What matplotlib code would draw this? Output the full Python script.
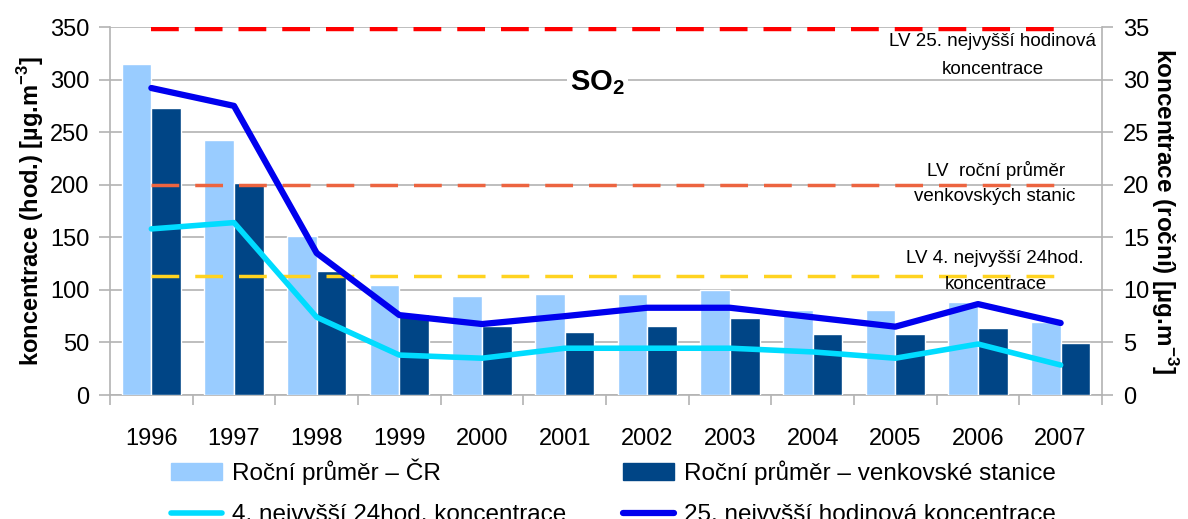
import matplotlib.pyplot as plt
import matplotlib.patches as mpatches
import matplotlib.lines as mlines
import numpy as np

plt.rcParams['font.family'] = ['Liberation Sans', 'DejaVu Sans']
plt.rcParams['mathtext.fontset'] = 'custom'
plt.rcParams['mathtext.rm'] = 'Liberation Sans'
plt.rcParams['mathtext.bf'] = 'Liberation Sans:bold'
plt.rcParams['lines.scale_dashes'] = False

# data
years = ['1996', '1997', '1998', '1999', '2000', '2001',
         '2002', '2003', '2004', '2005', '2006', '2007']
prumer_cr = [31.5, 24.3, 15.1, 10.5, 9.4, 9.6, 9.6, 10.0, 8.1, 8.1, 8.8, 6.9]
prumer_venkov = [27.3, 20.2, 11.8, 7.7, 6.6, 6.0, 6.6, 7.3, 5.8, 5.8, 6.4, 4.9]
max4_24h = [158, 164, 74, 38, 35, 44.5, 44.5, 44.5, 41, 35, 48.5, 28.5]
max25_hod = [292, 275, 135, 76, 67.5, 75, 83, 83, 74, 65, 86.5, 68.5]
lv_hod = 348
lv_rocni = 200
lv_24h = 113.5

grid_c = '#b3b3b3'
x = np.arange(len(years))

fig = plt.figure(figsize=(11.88, 5.19), dpi=100)
ax = fig.add_axes([0.0926, 0.2389, 0.835, 0.709])
ax2 = ax.twinx()

# bars on annual axis (right)
ax.bar(x - 0.18, prumer_cr, width=0.36, color='#99ccff', edgecolor='white', linewidth=1, zorder=3)
ax.bar(x + 0.18, prumer_venkov, width=0.36, color='#004586', edgecolor='white', linewidth=1, zorder=3)
ax.set_ylim(0, 35)
ax.set_yticks(range(0, 36, 5))
ax.yaxis.tick_right()
ax.yaxis.set_label_position('right')
ax.grid(axis='y', color=grid_c, linewidth=1.2, zorder=0)
ax.set_axisbelow(True)
ax.set_xlim(-0.5, 11.5)
ax.set_xticks(x)
ax.set_xticklabels(years, fontsize=17)
ax.set_xticks(np.arange(-0.5, 12, 1), minor=True)
ax.tick_params(axis='x', which='major', length=0, pad=24)
ax.tick_params(axis='x', which='minor', length=7, color=grid_c, width=1.2)
ax.tick_params(axis='y', length=8, color=grid_c, width=1.2, labelsize=17, pad=7)
ax.set_ylabel(r'koncentrace (roční) [µg.m$^{\mathbf{-3}}$]', fontsize=17.5, fontweight='bold',
              rotation=270, labelpad=22)
for s in ['top', 'left']:
    ax.spines[s].set_visible(False)
for s in ['right', 'bottom']:
    ax.spines[s].set_color(grid_c)
    ax.spines[s].set_linewidth(1.2)

# lines on hourly axis (left)
ax2.plot(x, [lv_hod] * len(x), color='#ff0000', lw=3.2, dashes=(20, 11.5), dash_capstyle='butt')
ax2.plot(x, [lv_rocni] * len(x), color='#ec6440', lw=2.5, dashes=(20, 11.5), dash_capstyle='butt')
ax2.plot(x, [lv_24h] * len(x), color='#ffd320', lw=2.5, dashes=(20, 11.5), dash_capstyle='butt')
ax2.plot(x, max4_24h, color='#00dcff', lw=4.0, solid_capstyle='round')
ax2.plot(x, max25_hod, color='#0000ee', lw=4.5, solid_capstyle='round')
ax2.set_ylim(0, 350)
ax2.set_yticks(range(0, 351, 50))
ax2.yaxis.tick_left()
ax2.yaxis.set_label_position('left')
ax2.tick_params(axis='y', length=8, color=grid_c, width=1.2, labelsize=17, pad=7)
ax2.set_ylabel(r'koncentrace (hod.) [µg.m$^{\mathbf{-3}}$]', fontsize=17, fontweight='bold', labelpad=3)
for s in ['top', 'right', 'bottom']:
    ax2.spines[s].set_visible(False)
ax2.spines['left'].set_color(grid_c)
ax2.spines['left'].set_linewidth(1.2)

# annotations
ax2.text(5.4, 297, r'SO$_\mathbf{2}$', fontsize=21, fontweight='bold', ha='center', va='center',
         bbox=dict(facecolor='white', edgecolor='none', pad=2))
ann_fs = 13.5
ax2.text(10.18, 336, 'LV 25. nejvyšší hodinová', fontsize=ann_fs, ha='center', va='center')
ax2.text(10.18, 310, 'koncentrace', fontsize=ann_fs, ha='center', va='center')
ax2.text(10.22, 214, 'LV  roční průměr', fontsize=ann_fs, ha='center', va='center')
ax2.text(10.2, 189, 'venkovských stanic', fontsize=ann_fs, ha='center', va='center')
ax2.text(10.2, 130, 'LV 4. nejvyšší 24hod.', fontsize=ann_fs, ha='center', va='center')
ax2.text(10.22, 105, 'koncentrace', fontsize=ann_fs, ha='center', va='center')

# legend
handles = [
    mpatches.Patch(color='#99ccff', label='Roční průměr – ČR'),
    mlines.Line2D([], [], color='#00dcff', lw=4.0, solid_capstyle='round', label='4. nejvyšší 24hod. koncentrace'),
    mpatches.Patch(color='#004586', label='Roční průměr – venkovské stanice'),
    mlines.Line2D([], [], color='#0000ee', lw=4.5, solid_capstyle='round', label='25. nejvyšší hodinová koncentrace'),
]
fig.legend(handles=handles, ncol=2, loc='upper left', bbox_to_anchor=(0.144, 0.116),
           frameon=False, fontsize=17.5, handlelength=2.1, handleheight=0.7,
           handletextpad=0.4, labelspacing=0.78, columnspacing=2.35, borderaxespad=0, borderpad=0)

fig.savefig('out.png', dpi=100)
